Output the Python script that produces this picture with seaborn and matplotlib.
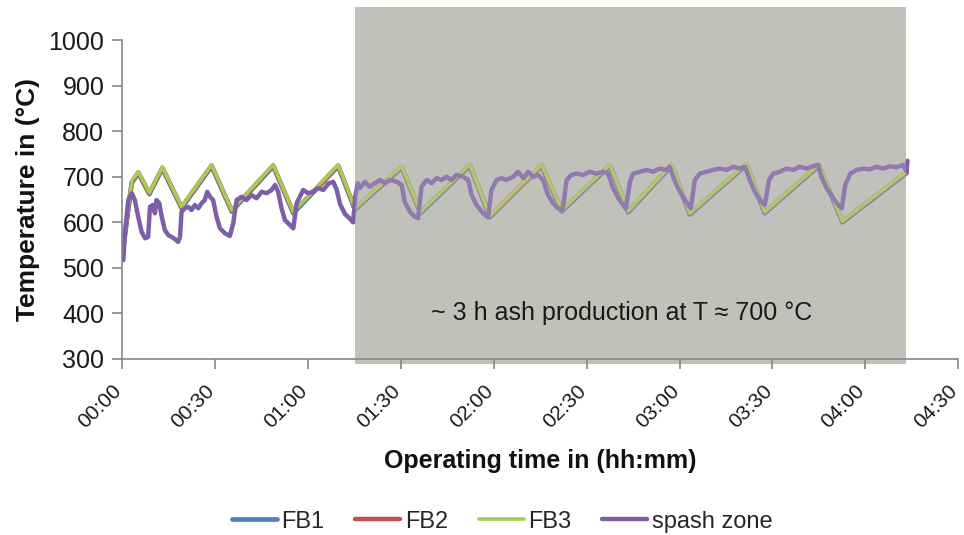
import matplotlib
matplotlib.use("Agg")
import matplotlib.pyplot as plt
import matplotlib.transforms as mtransforms
from matplotlib.patches import Rectangle
import pandas as pd
import seaborn as sns

# Fluidised-bed thermocouples (minutes since start, °C)
fb_time = [0.5, 3.0, 5.1, 8.7, 12.9, 19.1, 28.8, 35.3, 48.7, 55.2, 69.7, 75.1,
           90.2, 96.3, 112.2, 118.7, 135.4, 141.9, 157.5, 163.4, 177.4, 183.3,
           201.6, 207.5, 225.0, 232.6, 253.3]
fb1 = [555, 686, 708, 662, 718, 631, 723, 624, 723, 620, 723, 628, 720, 620,
       724, 611, 724, 624, 724, 622, 724, 617, 726, 620, 724, 600, 708]
fb2 = [558, 688, 710, 664, 720, 633, 725, 626, 725, 622, 725, 630, 722, 622,
       726, 613, 726, 626, 726, 624, 726, 619, 728, 622, 726, 602, 710]
fb3 = [560, 690, 711, 665, 721, 634, 726, 627, 726, 623, 726, 631, 723, 623,
       727, 614, 727, 627, 727, 625, 727, 620, 729, 623, 727, 603, 711]

# Splash zone thermocouple
splash_time = [0.3, 0.8, 1.9, 3.0, 4.0, 5.1, 6.2, 7.3, 8.3, 8.9, 9.8, 10.5, 11.0,
               11.9, 12.7, 13.7, 14.8, 15.9, 17.0, 18.0, 18.6, 19.1, 20.2, 21.3,
               22.3, 23.4, 24.5, 25.6, 26.6, 27.4, 28.3, 29.3, 30.4, 31.5, 33.1,
               34.7, 35.8, 36.9, 38.5, 40.1, 41.7, 43.3, 45.0, 46.6, 48.2, 49.3,
               50.3, 51.4, 52.5, 54.1, 55.2, 56.3, 57.3, 58.4, 60.0, 61.6, 63.2,
               64.9, 66.5, 68.1, 69.2, 70.3, 71.9, 73.5, 74.5, 75.3, 76.0, 76.7,
               78.3, 79.9, 81.6, 83.2, 84.8, 86.4, 88.6, 90.2, 91.2, 92.9, 94.5,
               95.5, 96.6, 98.3, 99.9, 101.5, 103.1, 104.7, 106.3, 107.9, 110.1,
               111.7, 112.8, 114.4, 116.5, 118.1, 119.2, 120.9, 122.5, 124.1,
               126.2, 127.8, 129.5, 131.1, 132.7, 134.3, 135.9, 137.5, 139.1,
               140.7, 142.2, 143.5, 145.1, 146.7, 148.8, 151.0, 153.2, 155.3,
               156.9, 158.5, 160.2, 161.8, 162.6, 164.0, 165.0, 167.2, 169.3,
               171.4, 173.6, 175.8, 176.8, 177.9, 179.5, 181.1, 182.8, 183.6,
               184.9, 186.5, 188.7, 190.8, 193.0, 195.2, 197.3, 199.4, 201.1,
               202.7, 204.3, 205.9, 207.5, 208.9, 210.2, 212.4, 214.5, 216.7,
               218.8, 221.0, 223.1, 224.7, 225.8, 227.5, 229.6, 231.3, 232.4,
               233.5, 235.1, 237.2, 239.3, 241.4, 243.6, 245.7, 247.9, 250.0,
               252.2, 253.3, 253.6]
splash = [517, 576, 649, 664, 649, 612, 579, 565, 568, 634, 638, 620, 649,
          642, 612, 583, 572, 568, 563, 557, 568, 623, 631, 634,
          627, 638, 631, 642, 649, 667, 656, 649, 612, 587, 576,
          570, 598, 649, 656, 649, 660, 653, 667, 664, 671, 682,
          667, 631, 605, 594, 587, 642, 656, 671, 664, 667, 675,
          671, 685, 689, 672, 640, 618, 608, 600, 660, 686, 675,
          689, 678, 686, 693, 686, 693, 689, 682, 645, 623, 612,
          609, 678, 693, 686, 697, 693, 700, 693, 704, 700,
          693, 660, 638, 620, 611, 671, 693, 697, 693,
          700, 711, 697, 711, 700, 704, 693, 660, 642,
          631, 627, 693, 704, 707, 704, 711, 707, 711,
          707, 675, 653, 638, 630, 690, 707, 711, 715,
          711, 718, 715, 722, 700, 675, 656, 638, 631,
          693, 707, 711, 715, 718, 715, 722, 718, 722,
          693, 667, 649, 638, 693, 707, 711, 718, 715,
          722, 718, 723, 726, 700, 675, 653, 638, 631,
          682, 707, 715, 718, 716, 722, 718, 723, 721,
          726, 712, 735]

x_ticks = [0, 30, 60, 90, 120, 150, 180, 210, 240, 270]
x_tick_labels = ["00:00", "00:30", "01:00", "01:30", "02:00",
                 "02:30", "03:00", "03:30", "04:00", "04:30"]
y_ticks = [300, 400, 500, 600, 700, 800, 900, 1000]

ash_start, ash_end = 75.1, 253.1

fb_df = pd.DataFrame({"t": fb_time, "FB1": fb1, "FB2": fb2, "FB3": fb3})
sp_df = pd.DataFrame({"t": splash_time, "spash zone": splash})

sns.set_style("ticks")
plt.rcParams["font.family"] = ["Liberation Sans", "DejaVu Sans"]

fig = plt.figure(figsize=(9.64, 5.35), dpi=100)
ax = fig.add_axes([0.127, 0.329, 0.867, 0.596])

grey = "#c0c1bb"
ax.add_patch(Rectangle((ash_start, -0.016), ash_end - ash_start, 1.119,
                       transform=ax.get_xaxis_transform(), facecolor=grey,
                       edgecolor="none", zorder=0, clip_on=False))

sns.lineplot(data=fb_df, x="t", y="FB1", ax=ax, color="#4f81bd", lw=3.4,
             label="FB1", zorder=2)
sns.lineplot(data=fb_df, x="t", y="FB2", ax=ax, color="#c0504d", lw=3.2,
             label="FB2", zorder=2.1)
sns.lineplot(data=fb_df, x="t", y="FB3", ax=ax, color="#a6cc58", lw=2.6,
             label="FB3", zorder=2.2)
sns.lineplot(data=sp_df, x="t", y="spash zone", ax=ax, color="#7d5ea9", lw=3.2,
             label="spash zone", zorder=2.3)

# light haze over the ash-production window
ax.add_patch(Rectangle((ash_start, 0), ash_end - ash_start, 1,
                       transform=ax.get_xaxis_transform(), facecolor=grey,
                       alpha=0.3, edgecolor="none", zorder=2.5))

ax.set_xlim(0, 270)
ax.set_ylim(300, 1000)
ax.set_xticks(x_ticks)
ax.set_xticklabels(x_tick_labels, rotation=45, ha="right", va="center",
                   rotation_mode="anchor")
ax.set_yticks(y_ticks)

spine_c = "#878787"
for side in ("top", "right"):
    ax.spines[side].set_visible(False)
for side in ("left", "bottom"):
    ax.spines[side].set_color(spine_c)
    ax.spines[side].set_linewidth(1.2)
    ax.spines[side].set_zorder(3)
ax.tick_params(axis="both", colors=spine_c, length=7, width=1.2,
               labelcolor="#1a1a1a")
ax.tick_params(axis="y", labelsize=18, pad=6)
ax.tick_params(axis="x", labelsize=15, pad=14)

# nudge the rotated time labels a little to the left
shift = mtransforms.ScaledTranslation(-2.5 / 72, 0, fig.dpi_scale_trans)
for lbl in ax.get_xticklabels():
    lbl.set_transform(lbl.get_transform() + shift)

ax.set_xlabel("Operating time in (hh:mm)", fontsize=18, fontweight="bold",
              color="#111111", labelpad=12)
ax.set_ylabel("Temperature in (°C)", fontsize=19, fontweight="bold",
              color="#111111", labelpad=6)

ax.text(161.3, 401, "~ 3 h ash production at T \u2248 700 \u00b0C",
        fontsize=18, ha="center", va="center", color="#1a1a1a", zorder=4)

ax.legend_.remove()
handles, labels = ax.get_legend_handles_labels()
fig.legend(handles[:4], labels[:4], loc="center", bbox_to_anchor=(0.521, 0.025),
           ncol=4, frameon=False, fontsize=17, handlelength=1.9,
           columnspacing=1.3, handletextpad=0.2)

fig.savefig("out.png", dpi=100, facecolor="white")
